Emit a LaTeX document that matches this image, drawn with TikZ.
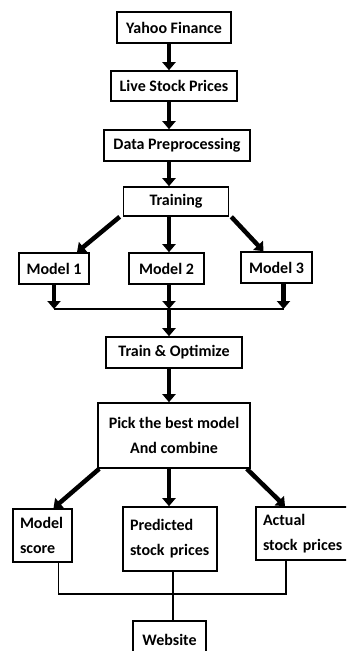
\documentclass[tikz,border=0pt]{standalone}
\usepackage{fontspec}
\setmainfont{Carlito}
\usetikzlibrary{arrows.meta}
\tikzstyle{stagebox}=[draw,line width=1.6pt,font=\fontsize{16}{25}\selectfont\bfseries,inner sep=0pt,align=center]
\tikzstyle{notebox}=[stagebox,align=left,inner xsep=7pt]
\tikzstyle{fatarrow}=[line width=4.5pt,-{Triangle[width=13pt,length=8pt]}]
\tikzstyle{wire}=[line width=1.8pt]
\newcommand{\stage}[5]{% name, x, y, width, height ... text comes after
  \node[stagebox,minimum width=#4,minimum height=#5] (#1) at (#2,#3)}

\begin{document}
\begin{tikzpicture}[x=1pt,y=-1pt]
  \useasboundingbox (0,0) rectangle (346,651);
  \clip (0,0) rectangle (346,651);
  \coordinate (spine) at (169,0);
  \coordinate (bus) at (169,309);
  \coordinate (lowbus) at (169,594);
  % top chain
  \stage{yahoo}{174}{27.5}{114pt}{31pt} {Yahoo Finance};
  \stage{live}{174}{86}{126pt}{30pt} {Live Stock Prices};
  \stage{prep}{177}{145.5}{146pt}{31pt} {Data Preprocessing};
  \stage{train}{176}{201.5}{105pt}{29pt} {Training};
  % models
  \stage{mone}{54}{268.5}{70pt}{31pt} {Model 1};
  \stage{mtwo}{166.5}{268.5}{75pt}{31pt} {Model 2};
  \stage{mthree}{276.5}{267.5}{71pt}{31pt} {Model 3};
  \stage{trainopt}{174}{352.5}{136pt}{31pt} {Train \& Optimize};
  \stage{pick}{174}{435.5}{152pt}{65pt} {Pick the best model\\And combine};
  % outputs
  \node[notebox,minimum width=59pt,minimum height=53pt,text width=45pt] (score) at (42.5,535.5) {Model\\score};
  \node[notebox,minimum width=94pt,minimum height=64pt,text width=80pt] (pred) at (170,539) {Predicted\\stock prices};
  \node[notebox,minimum width=94pt,minimum height=53pt,text width=80pt] (actual) at (303,533.5) {Actual\\stock prices};
  \stage{web}{169.5}{640}{73pt}{38pt} {Website};

  \draw[fatarrow] (yahoo.south -| spine) -- (live.north -| spine);
  \draw[fatarrow] (live.south -| spine) -- (prep.north -| spine);
  \draw[fatarrow] (prep.south -| spine) -- (train.north -| spine);
  \draw[fatarrow] ([xshift=-3pt]train.south west) -- ([xshift=23pt]mone.north);
  \draw[fatarrow] (train.south -| spine) -- (mtwo.north -| spine);
  \draw[fatarrow] ([xshift=2pt]train.south east) -- ([xshift=-13pt]mthree.north);

  \draw[fatarrow] (mone.south) -- (mone.south |- bus);
  \draw[fatarrow] (mtwo.south -| spine) -- (bus);
  \draw[fatarrow] ([xshift=7pt]mthree.south) -- ([xshift=7pt]mthree.south |- bus);
  \draw[wire] (mone.south |- bus) -- ([xshift=7pt]mthree.south |- bus);
  \draw[fatarrow] (bus) -- (trainopt.north -| spine);
  \draw[fatarrow] (trainopt.south -| spine) -- (pick.north -| spine);

  \draw[fatarrow] ([xshift=2pt]pick.south west) -- ([xshift=11pt]score.north);
  \draw[fatarrow] (pick.south -| spine) -- (pred.north -| spine);
  \draw[fatarrow] ([xshift=-4pt]pick.south east) -- ([xshift=-18pt]actual.north);

  \draw[wire] ([xshift=16pt]score.south) -- ([xshift=16pt]score.south |- lowbus)
    -- ([xshift=-17pt]actual.south |- lowbus) -- ([xshift=-17pt]actual.south);
  \draw[wire] ([xshift=3pt]pred.south) -- ([xshift=3pt]pred.south |- web.north);
\end{tikzpicture}
\end{document}
